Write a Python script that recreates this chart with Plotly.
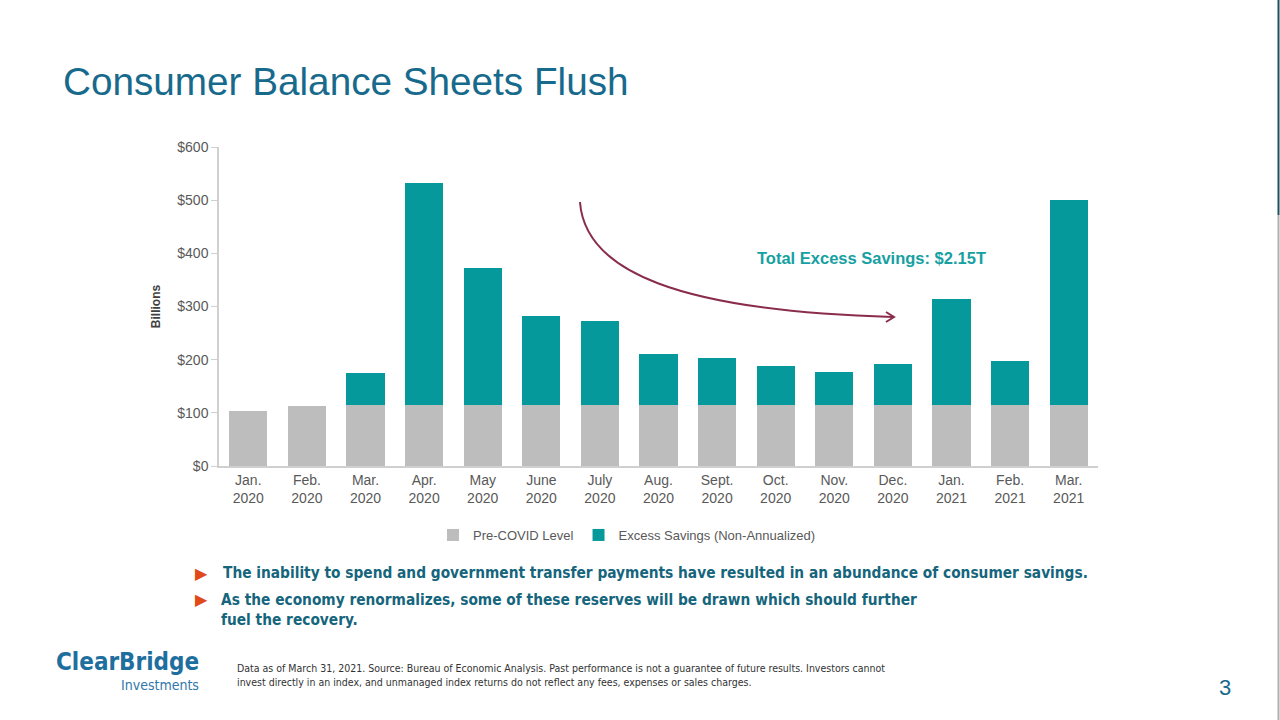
import plotly.graph_objects as go

# ---- data ----
months = ["Jan.<br>2020", "Feb.<br>2020", "Mar.<br>2020", "Apr.<br>2020", "May<br>2020",
          "June<br>2020", "July<br>2020", "Aug.<br>2020", "Sept.<br>2020", "Oct.<br>2020",
          "Nov.<br>2020", "Dec.<br>2020", "Jan.<br>2021", "Feb.<br>2021", "Mar.<br>2021"]
pre_covid = [104, 113, 115, 115, 115, 115, 115, 115, 115, 115, 115, 115, 115, 115, 115]
excess = [0, 0, 60, 417, 257, 167, 158, 96, 88, 73, 62, 77, 199, 82, 385]
y_ticks = [0, 100, 200, 300, 400, 500, 600]
y_tick_labels = ["$0", "$100", "$200", "$300", "$400", "$500", "$600"]

W, H = 1280, 720
L, R, T, B = 219, 1098, 147, 466


def px(x):
    return (x - L) / (R - L)


def py(y):
    return (B - y) / (B - T)


GRAY = "#bdbdbd"
TEAL = "#06999c"
AXIS = "#595959"
NARROW = "Liberation Sans Narrow, Arial Narrow, DejaVu Sans Condensed, sans-serif"

fig = go.Figure()
fig.add_trace(go.Bar(x=months, y=pre_covid, name="Pre-COVID Level",
                     marker=dict(color=GRAY, line=dict(width=0))))
fig.add_trace(go.Bar(x=months, y=excess, name="Excess Savings (Non-Annualized)",
                     marker=dict(color=TEAL, line=dict(width=0))))

fig.update_layout(
    width=W, height=H,
    margin=dict(l=L, r=W - R, t=T, b=H - B),
    barmode="stack", bargap=0.35,
    plot_bgcolor="white", paper_bgcolor="white",
    font=dict(family="Liberation Sans, Arial, sans-serif", color=AXIS),
    showlegend=True,
    legend=dict(orientation="h", x=px(627), xanchor="center", y=py(535), yanchor="middle",
                font=dict(size=13, color=AXIS), itemwidth=30, traceorder="normal",
                bgcolor="rgba(0,0,0,0)"),
    xaxis=dict(showgrid=False, showline=True, linecolor="#d0d0d0", linewidth=1.5,
               ticks="", tickfont=dict(size=14, color=AXIS)),
    yaxis=dict(range=[0, 600], tickmode="array", tickvals=y_ticks, ticktext=y_tick_labels,
               showgrid=False, showline=True, linecolor="#d0d0d0", linewidth=1.5, ticks="outside",
               ticklen=6, tickcolor="#d0d0d0", tickfont=dict(size=14, color=AXIS),
               zeroline=False,
               title=dict(text="<b>Billions</b>", font=dict(size=12, color="#404040"), standoff=14)),
)

annots = [
    dict(text="Consumer Balance Sheets Flush", x=px(61), y=py(82), xanchor="left", yanchor="middle",
         font=dict(size=38.7, color="#176a8c", family="Liberation Sans, Arial, sans-serif")),
    dict(text="<b>Total Excess Savings: $2.15T</b>", x=px(871), y=py(258), xanchor="center", yanchor="middle",
         font=dict(size=16.5, color="#16a0a2")),
    dict(text="▶", x=px(201), y=py(573), xanchor="center", yanchor="middle",
         font=dict(size=16, color="#e04a1a", family="DejaVu Sans")),
    dict(text="▶", x=px(201), y=py(599), xanchor="center", yanchor="middle",
         font=dict(size=16, color="#e04a1a", family="DejaVu Sans")),
    dict(text="<b>The inability to spend and government transfer payments have resulted in an abundance of consumer savings.</b>",
         x=px(221), y=py(573), xanchor="left", yanchor="middle",
         font=dict(size=15.3, color="#15657c", family=NARROW)),
    dict(text="<b>As the economy renormalizes, some of these reserves will be drawn which should further<br>fuel the recovery.</b>",
         x=px(219), y=py(589), xanchor="left", yanchor="top", align="left",
         font=dict(size=15.3, color="#15657c", family=NARROW)),
    dict(text="Data as of March 31, 2021. Source: Bureau of Economic Analysis. Past performance is not a guarantee of future results. Investors cannot<br>"
              "invest directly in an index, and unmanaged index returns do not reflect any fees, expenses or sales charges.",
         x=px(235), y=py(660), xanchor="left", yanchor="top", align="left",
         font=dict(size=10.5, color="#333333", family=NARROW)),
    dict(text="<b>ClearBridge</b>", x=px(201), y=py(662), xanchor="right", yanchor="middle",
         font=dict(size=24, color="#1f6f9e", family=NARROW)),
    dict(text="Investments", x=px(201), y=py(685), xanchor="right", yanchor="middle",
         font=dict(size=14, color="#2f77ab", family=NARROW)),
    dict(text="3", x=px(1225), y=py(687), xanchor="center", yanchor="middle",
         font=dict(size=22, color="#176a8c")),
]
for a in annots:
    a.update(xref="paper", yref="paper", showarrow=False)
    fig.add_annotation(**a)

# curved arrow
p0, p1, p2, p3 = (580, 202), (585, 272), (680, 311), (893, 317)
path = (f"M {px(p0[0])},{py(p0[1])} C {px(p1[0])},{py(p1[1])} {px(p2[0])},{py(p2[1])} "
        f"{px(p3[0])},{py(p3[1])}")
fig.add_shape(type="path", path=path, xref="paper", yref="paper",
              line=dict(color="#8a2d4c", width=2))
head = f"M {px(886)},{py(312)} L {px(894)},{py(317)} L {px(886)},{py(322)}"
fig.add_shape(type="path", path=head, xref="paper", yref="paper",
              line=dict(color="#8a2d4c", width=2))

# right slide edge
fig.add_shape(type="line", x0=px(1278.5), x1=px(1278.5), y0=py(0), y1=py(215), xref="paper", yref="paper",
              line=dict(color="#1d4f5c", width=2))
fig.add_shape(type="line", x0=px(1278.5), x1=px(1278.5), y0=py(215), y1=py(720), xref="paper", yref="paper",
              line=dict(color="#b0b0b0", width=2))

fig.write_html("out.html")
